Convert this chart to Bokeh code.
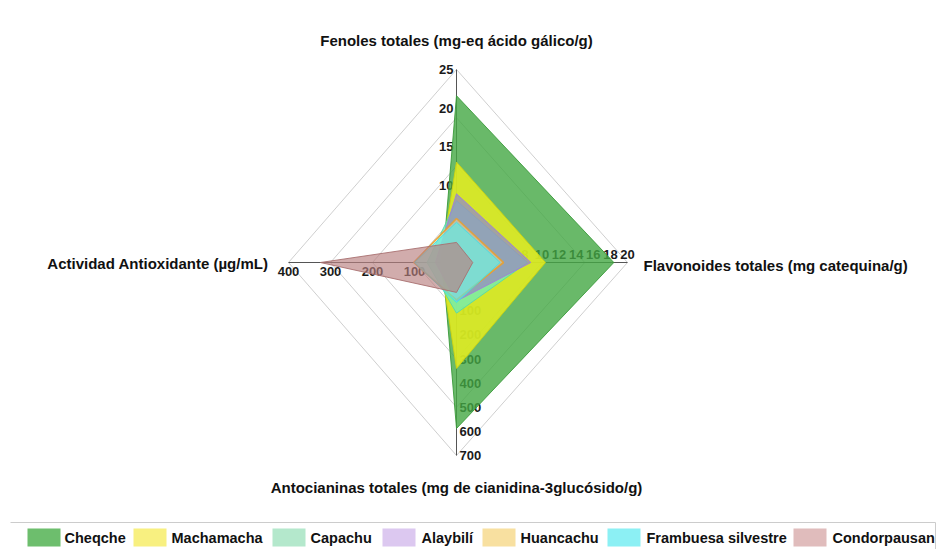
import numpy as np
from bokeh.plotting import figure
from bokeh.models import Range1d
from bokeh.core.properties import value
from bokeh.embed import file_html
from bokeh.resources import INLINE

# ---------------- data ----------------
series = ["Cheqche", "Machamacha", "Capachu", "Alaybilí", "Huancachu",
          "Frambuesa silvestre", "Condorpausan"]
fenoles = [21.6, 13.0, 8.0, 8.9, 5.7, 5.2, 2.6]          # mg-eq ácido gálico/g
flavonoides = [18.4, 10.4, 8.3, 8.7, 5.5, 5.1, 1.9]       # mg catequina/g
antocianinas = [588, 339, 110, 60, 55, 66, 24]            # mg cianidina-3-glucósido/g
actividad = [33, 38, 70, 50, 102, 100, 324]               # µg/mL

axis_titles = ["Fenoles totales (mg-eq ácido gálico/g)",
               "Flavonoides totales (mg catequina/g)",
               "Antocianinas totales (mg de cianidina-3glucósido/g)",
               "Actividad Antioxidante (µg/mL)"]
fen_ticks = [5, 10, 15, 20, 25]
flav_ticks = [2, 4, 6, 8, 10, 12, 14, 16, 18, 20]
anto_ticks = [100, 200, 300, 400, 500, 600, 700]
act_ticks = [100, 200, 300, 400]

# ---------------- styles / layout ----------------
fill_colors = ["#43a843", "#ecf01c", "#68eec0", "#968ec0", "#f5d890", "#50f0f0", "#b88080"]
fill_alphas = [0.8, 0.82, 0.72, 0.78, 0.5, 0.6, 0.65]
line_colors = ["#3a9a3a", "#d0d410", "#58d8a8", "#a080d8", "#e8a030", "#40e0e8", "#a87070"]
line_widths = [1, 1, 1, 1, 1.6, 1, 1]
legend_colors = ["#6dbe6d", "#f8f080", "#b4e8cc", "#dcc8f0", "#f8e0a0", "#8cf0f4", "#e0bcbc"]
FONT = value("Liberation Sans")

W, H = 945, 549
CX, CY = 456, 262  # center in canvas pixels

# axis: (min, max, radius px, dx, dy)
axes = [
    (0, 25, 193, 0, 1),      # Fenoles (up)
    (0, 20, 171, 1, 0),      # Flavonoides (right)
    (-100, 700, 193, 0, -1), # Antocianinas (down)
    (0, 400, 168, -1, 0),    # Actividad (left)
]


def pos(i, v):
    vmin, vmax, r, dx, dy = axes[i]
    d = (v - vmin) / (vmax - vmin) * r
    return dx * d, dy * d


p = figure(width=W, height=H, output_backend="svg", toolbar_location=None,
           x_range=Range1d(-CX, W - CX), y_range=Range1d(-(H - CY), CY),
           x_axis_type=None, y_axis_type=None, min_border=0)
p.grid.visible = False
p.outline_line_color = None
p.background_fill_color = "white"

# grid diamonds
for f in [0.25, 0.5, 0.75, 1.0]:
    xs, ys = [], []
    for i in range(4):
        vmin, vmax, r, dx, dy = axes[i]
        x, y = pos(i, vmin + f * (vmax - vmin))
        xs.append(x); ys.append(y)
    xs.append(xs[0]); ys.append(ys[0])
    p.line(xs, ys, line_color="#cfcfcf", line_width=1)

# axis lines
for i in range(4):
    x1, y1 = pos(i, axes[i][1])
    p.line([0, x1], [0, y1], line_color="#555555", line_width=1)

# tick labels (drawn under polygons)
tick_style = dict(text_font=FONT, text_font_style="bold", text_font_size="13px",
                  text_color="#1a1a1a")
tx = [pos(0, v)[0] - 3 for v in fen_ticks]
ty = [pos(0, v)[1] for v in fen_ticks]
p.text(tx, ty, text=[str(v) for v in fen_ticks], text_align="right",
       text_baseline="middle", **tick_style)
tx = [pos(1, v)[0] for v in flav_ticks]
ty = [pos(1, v)[1] + 4 for v in flav_ticks]
p.text(tx, ty, text=[str(v) for v in flav_ticks], text_align="center",
       text_baseline="bottom", **tick_style)
tx = [pos(2, v)[0] + 3 for v in anto_ticks]
ty = [pos(2, v)[1] for v in anto_ticks]
p.text(tx, ty, text=[str(v) for v in anto_ticks], text_align="left",
       text_baseline="middle", **tick_style)
tx = [pos(3, v)[0] for v in act_ticks]
ty = [pos(3, v)[1] - 4 for v in act_ticks]
p.text(tx, ty, text=[str(v) for v in act_ticks], text_align="center",
       text_baseline="top", **tick_style)

# series polygons
for k, name in enumerate(series):
    vals = [fenoles[k], flavonoides[k], antocianinas[k], actividad[k]]
    pts = [pos(i, vals[i]) for i in range(4)]
    xs = [q[0] for q in pts]
    ys = [q[1] for q in pts]
    p.patch(xs, ys, fill_color=fill_colors[k], fill_alpha=fill_alphas[k],
            line_color=line_colors[k], line_width=line_widths[k], line_alpha=0.9)

# axis titles
title_style = dict(text_font=FONT, text_font_style="bold", text_font_size="15px",
                   text_color="#111111")
p.text([0], [222], text=[axis_titles[0]], text_align="center", text_baseline="middle", **title_style)
p.text([187], [-3], text=[axis_titles[1]], text_align="left", text_baseline="middle", **title_style)
p.text([0], [-225], text=[axis_titles[2]], text_align="center", text_baseline="middle", **title_style)
p.text([-188], [-1], text=[axis_titles[3]], text_align="right", text_baseline="middle", **title_style)

# legend (manual, bottom)
box_x = [27, 133, 272, 382, 482, 607, 793]
text_x = [64, 171, 310, 421, 520, 646, 832]
LY = -275
p.line([-446, 479, 479], [-260, -260, -287], line_color="#cccccc", line_width=1)
p.rect([b - CX + 16.5 for b in box_x], [LY] * 7, width=33, height=18,
       fill_color=legend_colors, line_color=None)
p.text([t - CX for t in text_x], [LY] * 7, text=series, text_align="left",
       text_baseline="middle", text_font=FONT, text_font_style="bold",
       text_font_size="14.5px", text_color="#111111")

open("out.html", "w").write(file_html(p, INLINE))
